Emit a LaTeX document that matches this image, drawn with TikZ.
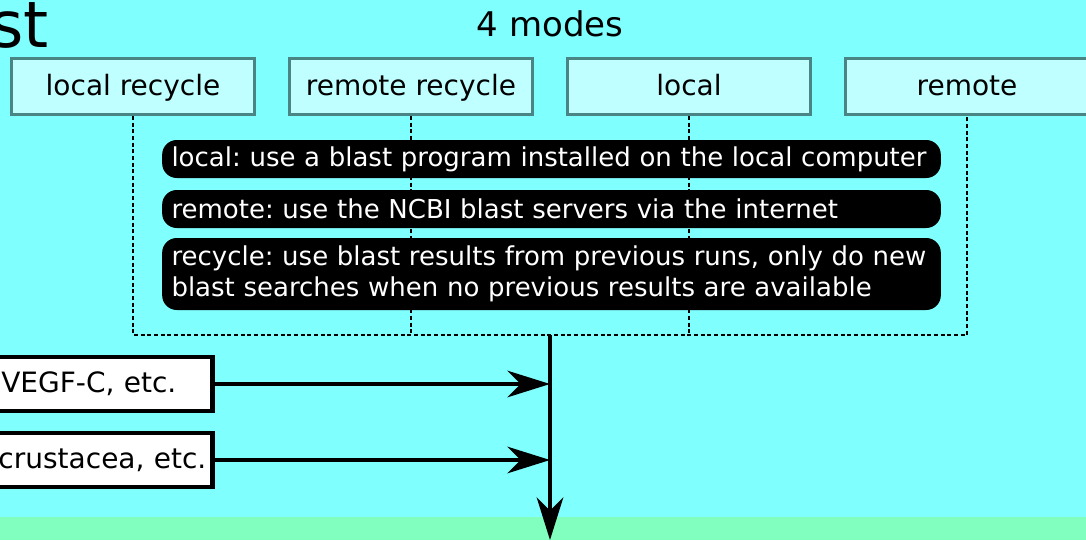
\documentclass[tikz,border=0pt]{standalone}
\usepackage{fontspec}
\setmainfont{DejaVu Sans}
\usetikzlibrary{arrows.meta}
\definecolor{skybg}{HTML}{80FFFF}
\definecolor{groundbg}{HTML}{80FFBF}
\definecolor{modefill}{HTML}{C0FFFF}
\definecolor{modeedge}{HTML}{4A8585}
\frenchspacing

\begin{document}
\begin{tikzpicture}[x=0.75pt,y=-0.75pt,
    modebox/.style={draw=modeedge, fill=modefill, line width=2.2pt, minimum width=182pt, minimum height=42pt, inner sep=0pt, text height=17pt, text depth=3.5pt, font=\fontsize{21}{25}\selectfont},
    descbox/.style={fill=black, text=white, rounded corners=11pt, text width=570pt, inner xsep=7pt, inner ysep=0pt, align=left, font=\fontsize{19.5}{23}\selectfont},
    inbox/.style={draw=black, fill=white, line width=3.2pt, minimum height=40.5pt, inner ysep=0pt, align=right, anchor=east, font=\fontsize{21}{25}\selectfont},
    link/.style={line width=1.9pt, dash pattern=on 3pt off 2pt},
    flow/.style={line width=2.3pt, -{Stealth[length=32pt, width=20pt, inset=10pt]}}]
  \clip (0,0) rectangle (1086,540);
  \fill[skybg] (0,0) rectangle (1086,540);
  \fill[groundbg] (0,517) rectangle (1086,540);

  % title and mode boxes
  \node[anchor=base east, font=\fontsize{48}{52}\selectfont, inner sep=0pt] (title) at (49,47) {st};
  \node[anchor=base, font=\fontsize{25.5}{30}\selectfont, inner sep=0pt] (modes) at (550,36) {4 modes};
  \node[modebox] (lrec) at (133,86.5) {local recycle};
  \node[modebox] (rrec) at (411,86.5) {remote recycle};
  \node[modebox] (loc) at (689,86.5) {local};
  \node[modebox] (rem) at (967,86.5) {remote};

  % dashed links from the modes
  \coordinate (join) at (550,335);
  \draw[link] (lrec.south) |- (join) -| (rem.south);
  \draw[link] (rrec.south) -- (rrec.south |- join);
  \draw[link] (loc.south) -- (loc.south |- join);

  % explanations
  \node[descbox, minimum height=28.5pt] (dlocal) at (551.5,159) {local: use a blast program installed on the local computer};
  \node[descbox, minimum height=28.5pt] (dremote) at (551.5,209) {remote: use the NCBI blast servers via the internet};
  \node[descbox, minimum height=54pt] (drecycle) at (551.5,274) {recycle: use blast results from previous runs, only do new\\blast searches when no previous results are available};

  % inputs
  \node[inbox, text width=150pt, inner xsep=27pt] (genes) at (214.5,384) {VEGF-C, etc.};
  \node[inbox, text width=200pt, inner xsep=4.5pt] (taxa) at (214.5,460) {crustacea, etc.};
  \coordinate (out) at (550,540);
  \draw[flow] (join) -- (out);
  \draw[flow] (genes.east) -- (genes.east -| join);
  \draw[flow] (taxa.east) -- (taxa.east -| join);
\end{tikzpicture}
\end{document}
